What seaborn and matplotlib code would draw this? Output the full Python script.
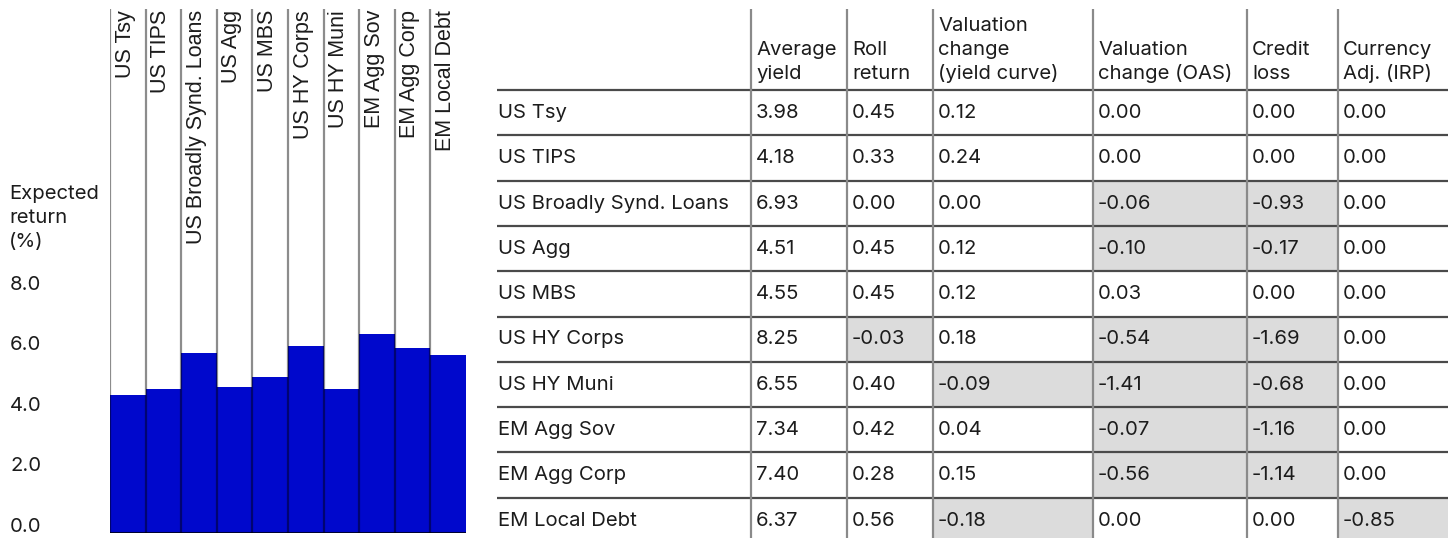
import numpy as np
import pandas as pd
import matplotlib
matplotlib.use("Agg")
import matplotlib.pyplot as plt
from matplotlib.colors import ListedColormap
from matplotlib.transforms import ScaledTranslation, blended_transform_factory
import seaborn as sns

# ---------------- data ----------------
categories = ["US Tsy", "US TIPS", "US Broadly Synd. Loans", "US Agg", "US MBS",
              "US HY Corps", "US HY Muni", "EM Agg Sov", "EM Agg Corp", "EM Local Debt"]
expected_return = [4.55, 4.75, 5.94, 4.81, 5.15, 6.17, 4.77, 6.57, 6.13, 5.90]

avg_yield = [3.98, 4.18, 6.93, 4.51, 4.55, 8.25, 6.55, 7.34, 7.40, 6.37]
roll_return = [0.45, 0.33, 0.00, 0.45, 0.45, -0.03, 0.40, 0.42, 0.28, 0.56]
val_yield_curve = [0.12, 0.24, 0.00, 0.12, 0.12, 0.18, -0.09, 0.04, 0.15, -0.18]
val_oas = [0.00, 0.00, -0.06, -0.10, 0.03, -0.54, -1.41, -0.07, -0.56, 0.00]
credit_loss = [0.00, 0.00, -0.93, -0.17, 0.00, -1.69, -0.68, -1.16, -1.14, 0.00]
currency_adj = [0.00, 0.00, 0.00, 0.00, 0.00, 0.00, 0.00, 0.00, 0.00, -0.85]

col_headers = ["", "Average\nyield", "Roll\nreturn", "Valuation\nchange\n(yield curve)",
               "Valuation\nchange (OAS)", "Credit\nloss", "Currency\nAdj. (IRP)"]
y_ticks = [0.0, 2.0, 4.0, 6.0, 8.0]
y_label = "Expected\nreturn\n(%)"

# ---------------- style ----------------
sns.set_theme(style="white")
plt.rcParams["font.family"] = ["Inter", "DejaVu Sans"]
TXT = "#1c1c1c"
BAR = "#0008CC"
FS = 14.6

W, H, DPI = 1448, 538, 100
fig = plt.figure(figsize=(W / DPI, H / DPI), dpi=DPI)

# ---------------- bar chart ----------------
px_per_unit = 30.25
ax_left, ax_right, ax_top, ax_bottom = 110, 466, 9, 533
ax = fig.add_axes([ax_left / W, (H - ax_bottom) / H,
                   (ax_right - ax_left) / W, (ax_bottom - ax_top) / H])
df = pd.DataFrame({"category": categories, "value": expected_return})
sns.barplot(data=df, x="category", y="value", color=BAR, saturation=1,
            width=1.0, linewidth=0, ax=ax)
ymax = (ax_bottom - ax_top) / px_per_unit
ax.set_xlim(-0.5, len(categories) - 0.5)
ax.set_ylim(0, ymax)
for s in ax.spines.values():
    s.set_visible(False)
ax.set_xlabel("")
ax.set_xticks([])
ax.set_yticks(y_ticks)
ax.set_yticklabels([f"{v:.1f}" for v in y_ticks])
ax.tick_params(axis="y", length=0, pad=72, labelsize=FS, labelcolor=TXT)
off = ScaledTranslation(0, 6 / 72, fig.dpi_scale_trans)
for lab in ax.get_yticklabels():
    lab.set_horizontalalignment("left")
    lab.set_transform(lab.get_transform() + off)
ax.set_ylabel(y_label, rotation=0, ha="left", va="center", fontsize=FS,
              color=TXT, linespacing=1.4)
ax.yaxis.set_label_coords((9 - ax_left) / (ax_right - ax_left),
                          (ax_bottom - 218) / (ax_bottom - ax_top))

ax.vlines(np.arange(len(categories)) - 0.5, 0, ymax, colors="black",
          alpha=0.45, linewidth=1.6, zorder=5)
ax.axhline(0, color="black", alpha=0.75, linewidth=2.2, zorder=5)

tr = blended_transform_factory(ax.transData, ax.transAxes)
for i, c in enumerate(categories):
    ax.text(i - 0.5 + 0.13, 0.998, c, rotation=90, ha="left", va="top",
            transform=tr, fontsize=15.5, color=TXT,
            family=["Liberation Sans", "DejaVu Sans"])

# ---------------- table ----------------
col_widths = [254, 96, 86, 160, 154, 91, 110]
tbl_left = 497
header_top, header_bottom, row_h = 9, 90, 45.3
tax = fig.add_axes([tbl_left / W, 0, sum(col_widths) / W, 1])
tax.set_xlim(0, sum(col_widths))
tax.set_ylim(H, 0)
tax.axis("off")

x_edges = np.concatenate([[0], np.cumsum(col_widths)])
n_rows = len(categories)
y_edges = header_bottom + row_h * np.arange(n_rows + 1)

values = np.array([avg_yield, roll_return, val_yield_curve, val_oas,
                   credit_loss, currency_adj]).T
neg = np.ma.masked_where(values >= 0, np.ones_like(values))
tax.pcolormesh(x_edges[1:], y_edges, neg, cmap=ListedColormap(["#dcdcdc"]),
               vmin=0, vmax=1, shading="flat", zorder=1)

tax.hlines(y_edges[:-1], 0, sum(col_widths), colors="#4a4a4a", linewidth=1.6, zorder=3)
tax.vlines(x_edges[1:-1], header_top, H + 10, colors="#8a8a8a", linewidth=1.6, zorder=3)

# header text (bottom-aligned lines)
line_step = 24.2
for j, hdr in enumerate(col_headers):
    if not hdr:
        continue
    lines = hdr.split("\n")
    for k, ln in enumerate(reversed(lines)):
        tax.text(x_edges[j] + 5, header_bottom - 11 - k * line_step, ln,
                 ha="left", va="baseline", fontsize=FS, color=TXT, zorder=4)

for r, c in enumerate(categories):
    yb = y_edges[r] + 28
    tax.text(x_edges[0] + 0.5, yb, c, ha="left", va="baseline", fontsize=FS,
             color=TXT, zorder=4)
    for j in range(values.shape[1]):
        tax.text(x_edges[j + 1] + 5, yb, f"{values[r, j]:.2f}", ha="left",
                 va="baseline", fontsize=FS, color=TXT, zorder=4)

fig.savefig("out.png", dpi=DPI)
